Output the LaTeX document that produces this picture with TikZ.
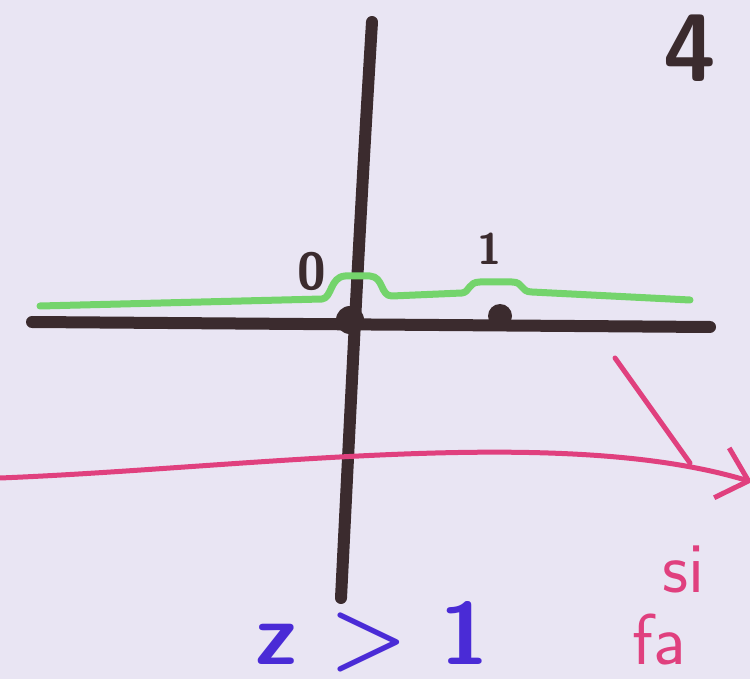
\documentclass[tikz,border=0pt]{standalone}
\usepackage{tikz}
\usetikzlibrary{arrows.meta}
\definecolor{paper}{HTML}{E9E5F3}
\definecolor{ink}{HTML}{3B2B2E}
\definecolor{leaf}{HTML}{74D46C}
\definecolor{rose}{HTML}{E0407E}
\definecolor{violet}{HTML}{4A2BD6}
\tikzset{
  axisline/.style={draw=ink, line width=6pt, line cap=round},
  contour/.style={draw=leaf, line width=3.5pt, line cap=round, line join=round},
  roseline/.style={draw=rose, line width=2.5pt, line cap=round},
  hand/.style={font=\sffamily\bfseries, inner sep=0pt}
}

\begin{document}
\begin{tikzpicture}[x=0.5pt,y=-0.5pt]
  \useasboundingbox (0,0) rectangle (750,679);
  \fill[paper] (0,0) rectangle (750,679);
  \clip (0,0) rectangle (750,679);

  \coordinate (vtop) at (372,22);
  \coordinate (vbot) at (341,598);
  \coordinate (hleft) at (32,322);
  \coordinate (hright) at (710,327);
  \coordinate (origin) at (350,320);
  \coordinate (one) at (500,316);

  \draw[axisline] (vtop) .. controls (358,250) and (350,420) .. (vbot);
  \draw[axisline] (hleft) -- (hright);
  \fill[ink] (origin) circle (7pt);
  \fill[ink] (one) circle (6pt);

  \draw[contour] (40,306) -- (322,299)
    .. controls (332,298) and (330,277) .. (345,276) -- (370,276)
    .. controls (384,277) and (380,296) .. (392,296) -- (462,293)
    .. controls (470,292) and (468,282) .. (480,282) -- (512,282)
    .. controls (524,282) and (520,292) .. (532,292) -- (690,300);

  \node[hand, ink, font=\fontsize{26}{26}\sffamily\bfseries] (zerolabel) at (312,271) {0};
  \node[hand, ink, font=\fontsize{22}{22}\sffamily\bfseries] (onelabel) at (490,249) {1};
  \node[hand, ink, font=\fontsize{48}{48}\sffamily\bfseries] (pagenum) at (690,48) {4};

  \coordinate (rstart) at (0,478);
  \coordinate (rend) at (752,482);
  \coordinate (rtop) at (615,358);
  \coordinate (rfoot) at (690,463);
  \draw[roseline, -{Straight Barb[length=14pt,width=26pt,line width=2.5pt]}]
    (rstart) .. controls (250,468) and (560,424) .. (rend);
  \draw[roseline] (rtop) -- (rfoot);

  \node[hand, rose, anchor=base west, font=\fontsize{36}{36}\sffamily] (since) at (662,592) {si};
  \node[hand, rose, anchor=base west, font=\fontsize{36}{36}\sffamily] (far) at (632,664) {fa};

  \node[hand, violet, font=\fontsize{44}{44}\sffamily\bfseries] (cond) at (372,637) {z > 1};
\end{tikzpicture}
\end{document}
